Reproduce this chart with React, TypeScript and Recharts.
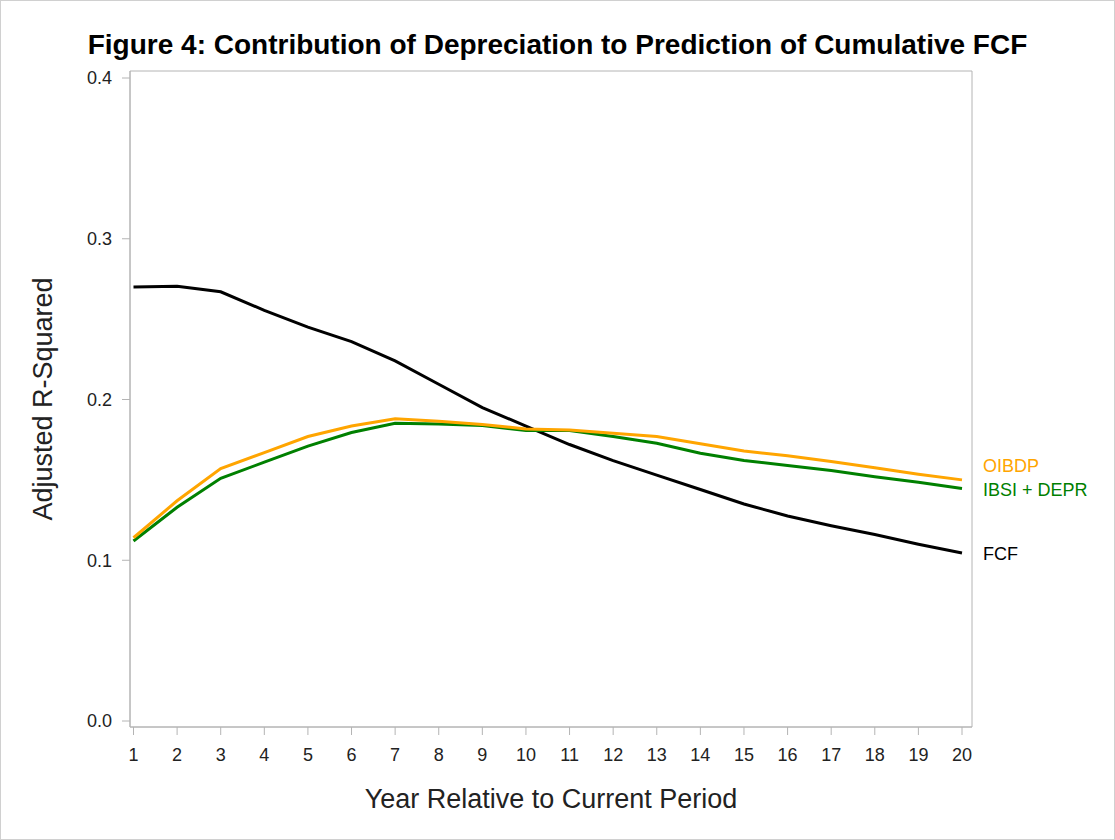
import { LineChart, Line, XAxis, YAxis, CartesianGrid, LabelList } from "recharts";

const years = [1, 2, 3, 4, 5, 6, 7, 8, 9, 10, 11, 12, 13, 14, 15, 16, 17, 18, 19, 20];
const fcf = [0.27, 0.2705, 0.267, 0.2555, 0.245, 0.236, 0.224, 0.2095, 0.195, 0.1835, 0.172, 0.162, 0.153, 0.144, 0.135, 0.1275, 0.1215, 0.116, 0.11, 0.1045];
const oibdp = [0.114, 0.137, 0.157, 0.167, 0.177, 0.1835, 0.188, 0.1865, 0.1845, 0.1817, 0.181, 0.179, 0.177, 0.1725, 0.168, 0.165, 0.1615, 0.1575, 0.1535, 0.15];
const ibsiDepr = [0.112, 0.133, 0.151, 0.161, 0.171, 0.1795, 0.1852, 0.1848, 0.1838, 0.1807, 0.1807, 0.177, 0.1728, 0.1666, 0.162, 0.159, 0.1558, 0.152, 0.1485, 0.1447];
const yTicks = [0, 0.1, 0.2, 0.3, 0.4];

const data = years.map((year, i) => ({
  year,
  fcf: fcf[i],
  oibdp: oibdp[i],
  ibsi: ibsiDepr[i],
}));

const FONT = "Arial, 'Liberation Sans', Helvetica, sans-serif";
const FRAME = "#b4b4b4";
const last = years.length - 1;

// draws the series name just right of the last point
const endLabel = (name: string, color: string, shift: number) => (props: any) => {
  if (props.index !== last) return null;
  return (
    <text
      x={props.x + 21}
      y={props.y + shift}
      dy="0.35em"
      fill={color}
      fontSize={18}
      fontFamily={FONT}
    >
      {name}
    </text>
  );
};

const YTitle = (props: any) => {
  const vb = props.viewBox ?? { x: 0, y: 71, width: 130, height: 656 };
  const x = vb.x + 52;
  const y = vb.y + vb.height / 2;
  return (
    <text
      x={x}
      y={y}
      transform={`rotate(-90 ${x} ${y})`}
      textAnchor="middle"
      fill="#222"
      fontSize={27}
      fontFamily={FONT}
    >
      Adjusted R-Squared
    </text>
  );
};

export default function App() {
  return (
    <div
      style={{
        position: "absolute",
        left: 0,
        top: 0,
        width: 1115,
        height: 840,
        background: "#fff",
        boxShadow: "inset 0 0 0 1px #d0d0d0",
        fontFamily: FONT,
      }}
    >
      <div
        style={{
          position: "absolute",
          top: 31,
          left: 0,
          width: 1115,
          textAlign: "center",
          fontSize: 28,
          lineHeight: "28px",
          fontWeight: "bold",
          color: "#000",
        }}
      >
        Figure 4: Contribution of Depreciation to Prediction of Cumulative FCF
      </div>
      <div style={{ position: "absolute", left: 0, top: 0 }}>
        <LineChart width={1115} height={840} data={data} margin={{ top: 71, right: 143, bottom: 0, left: 0 }}>
          <CartesianGrid
            stroke={FRAME}
            horizontalCoordinatesGenerator={({ offset }: any) => [offset.top, offset.top + offset.height]}
            verticalCoordinatesGenerator={({ offset }: any) => [offset.left, offset.left + offset.width]}
          />
          <XAxis
            dataKey="year"
            type="number"
            domain={[1, 20]}
            ticks={years}
            interval={0}
            padding={{ left: 3.5, right: 10 }}
            height={113}
            tickSize={8}
            tickMargin={13}
            stroke={FRAME}
            tick={{ fill: "#222", fontSize: 18, fontFamily: FONT }}
            label={{ value: "Year Relative to Current Period", position: "insideBottom", offset: 32, fill: "#222", fontSize: 27, fontFamily: FONT }}
          />
          <YAxis
            type="number"
            domain={[0, 0.4]}
            ticks={yTicks}
            interval={0}
            padding={{ top: 7, bottom: 6 }}
            width={130}
            tickSize={8}
            tickMargin={10}
            stroke={FRAME}
            tickFormatter={(v: number) => v.toFixed(1)}
            tick={{ fill: "#222", fontSize: 18, fontFamily: FONT }}
            label={{ content: YTitle }}
          />
          <Line
            type="linear"
            dataKey="fcf"
            name="FCF"
            stroke="#000"
            strokeWidth={3}
            dot={false}
            isAnimationActive={false}
          >
            <LabelList content={endLabel("FCF", "#000", 1)} />
          </Line>
          <Line
            type="linear"
            dataKey="ibsi"
            name="IBSI + DEPR"
            stroke="#008000"
            strokeWidth={3}
            dot={false}
            isAnimationActive={false}
          >
            <LabelList content={endLabel("IBSI + DEPR", "#008000", 1)} />
          </Line>
          <Line
            type="linear"
            dataKey="oibdp"
            name="OIBDP"
            stroke="#FFA500"
            strokeWidth={3}
            dot={false}
            isAnimationActive={false}
          >
            <LabelList content={endLabel("OIBDP", "#FFA500", -14)} />
          </Line>
        </LineChart>
      </div>
    </div>
  );
}
